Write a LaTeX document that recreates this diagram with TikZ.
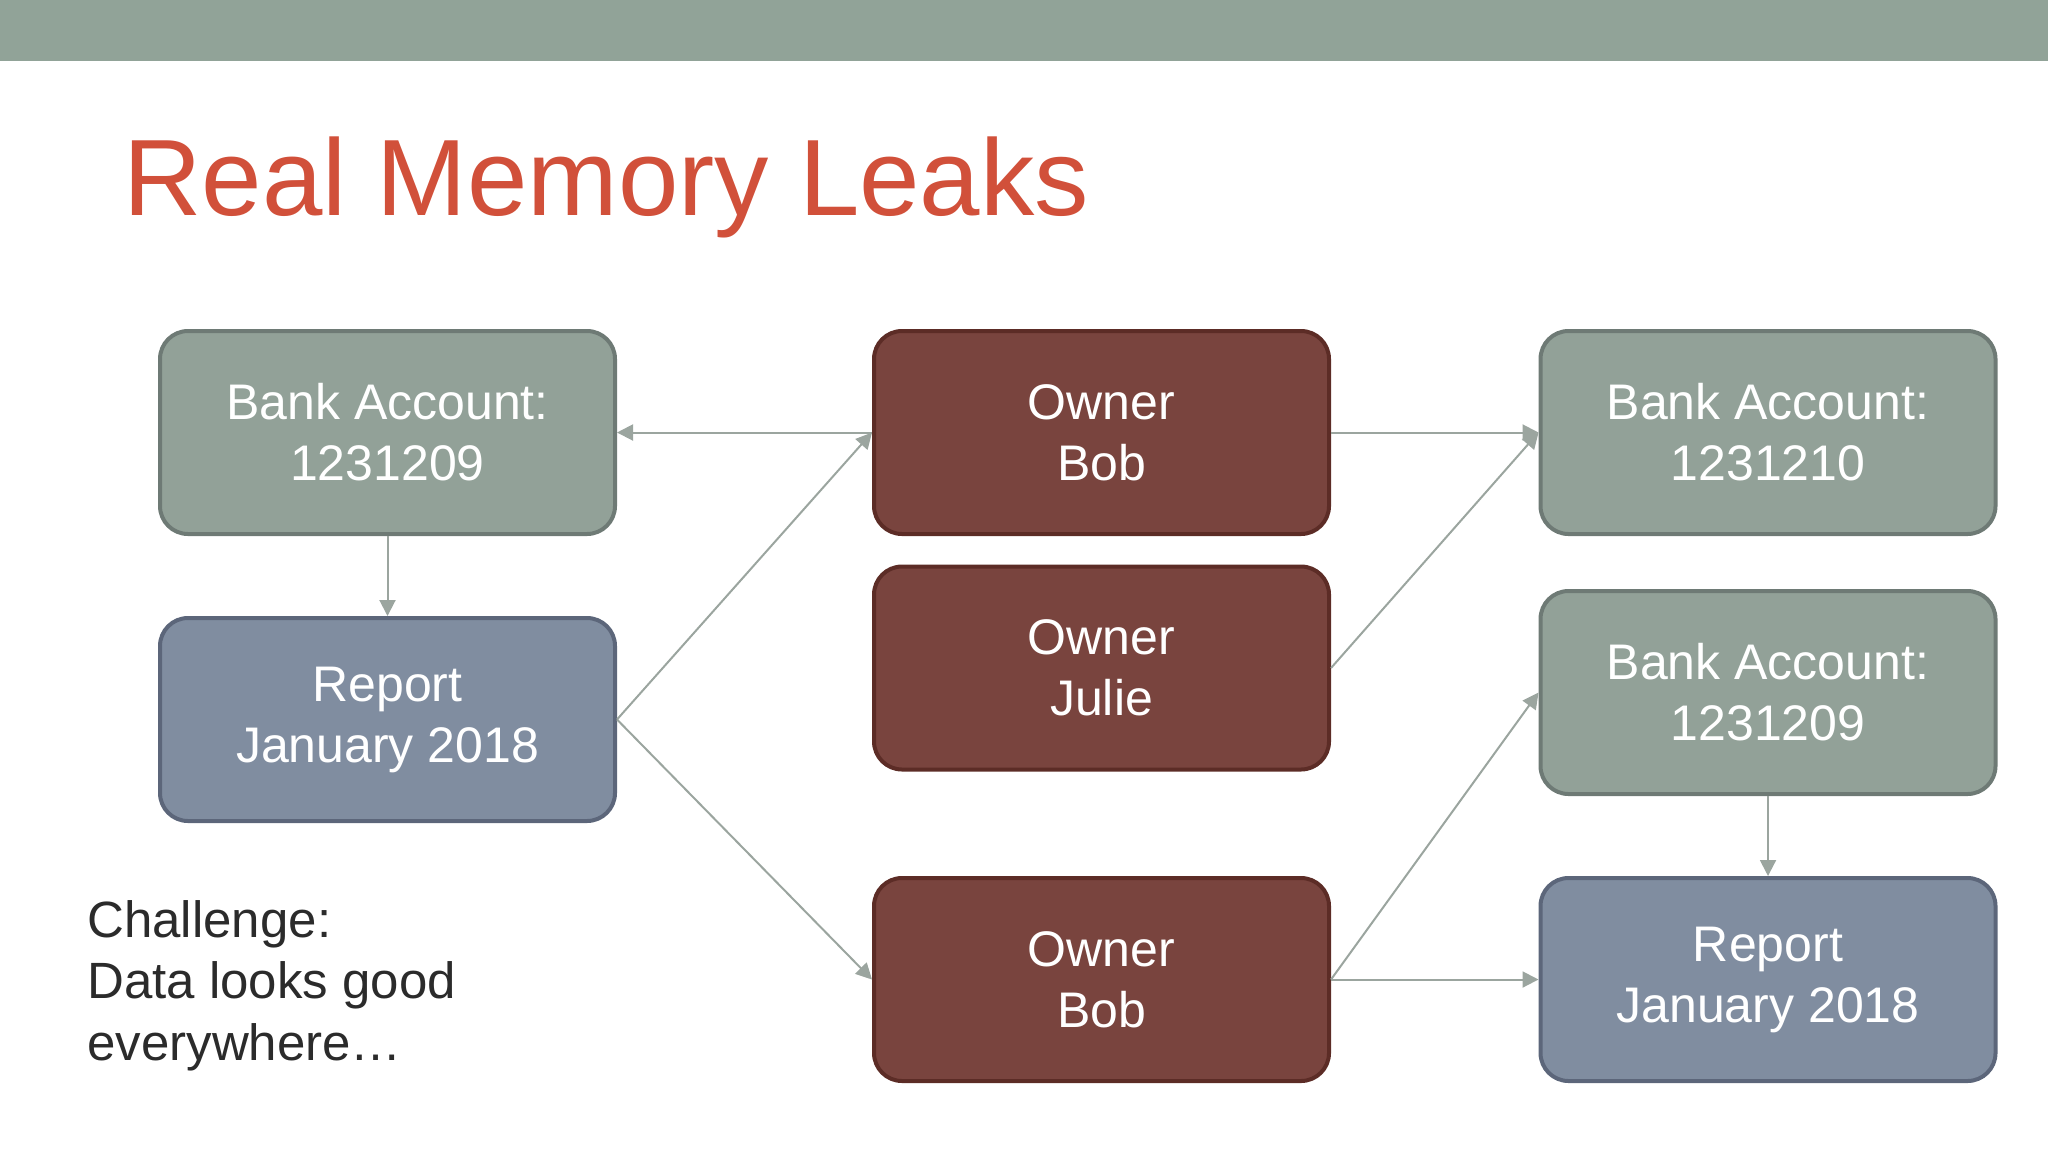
\documentclass[tikz,border=0pt]{standalone}
\usepackage{fontspec}
\setmainfont{Liberation Sans}
\usetikzlibrary{arrows.meta,positioning}
\definecolor{BarGreen}{HTML}{91A398}
\definecolor{AcctGreen}{HTML}{92A198}
\definecolor{AcctEdge}{HTML}{6E7A75}
\definecolor{OwnerBrown}{HTML}{79443E}
\definecolor{OwnerEdge}{HTML}{5C2C26}
\definecolor{ReportBlue}{HTML}{808DA0}
\definecolor{ReportEdge}{HTML}{5C667A}
\definecolor{TitleRed}{HTML}{D1503A}
\definecolor{LinkGray}{HTML}{9BA59F}
\definecolor{NoteInk}{HTML}{2B2B2B}

\begin{document}
\begin{tikzpicture}[x=.5pt,y=-.5pt,
  card/.style={rounded corners=14pt,line width=2pt,minimum width=227.5pt,
    minimum height=101.5pt,align=center,text=white,
    font=\fontsize{25}{30.5}\selectfont},
  acct/.style={card,fill=AcctGreen,draw=AcctEdge},
  owner/.style={card,fill=OwnerBrown,draw=OwnerEdge},
  report/.style={card,fill=ReportBlue,draw=ReportEdge},
  link/.style={-{Triangle[length=8pt,width=8pt]},LinkGray,line width=1pt}]
  \useasboundingbox (0,0) rectangle (2048,1152);
  \fill[BarGreen] (0,0) rectangle (2048,61);
  \node[anchor=base west,inner sep=0,TitleRed,font=\fontsize{54.3}{60}\selectfont]
    (title) at (123,215) {Real Memory Leaks};

  % left column
  \node[acct] (acctL) at (387.5,432.5) {Bank Account:\\1231209};
  \node[report] (repL) at (387.5,719.5) {Report\\January 2018};
  % owners
  \node[owner] (bobA) at (1101.5,432.5) {Owner\\Bob};
  \node[owner] (julie) at (1101.5,668) {Owner\\Julie};
  \node[owner] (bobB) at (1101.5,979.5) {Owner\\Bob};
  % right column
  \node[acct] (acctR) at (1768,432.5) {Bank Account:\\1231210};
  \node[acct] (acctS) at (1768,692.5) {Bank Account:\\1231209};
  \node[report] (repR) at (1768,979.5) {Report\\January 2018};

  \node[anchor=north west,inner sep=0,align=left,text=NoteInk,
    font=\fontsize{25.5}{30.75}\selectfont] (note) at (87,900)
    {Challenge:\\Data looks good\\everywhere\dots};

  \draw[link] (bobA.west) -- (acctL.east);
  \draw[link] (acctL.south) -- (repL.north);
  \draw[link] (repL.east) -- (bobA.west);
  \draw[link] (repL.east) -- (bobB.west);
  \draw[link] (bobA.east) -- (acctR.west);
  \draw[link] (julie.east) -- (acctR.west);
  \draw[link] (bobB.east) -- (acctS.west);
  \draw[link] (bobB.east) -- (repR.west);
  \draw[link] (acctS.south) -- (repR.north);
\end{tikzpicture}
\end{document}
